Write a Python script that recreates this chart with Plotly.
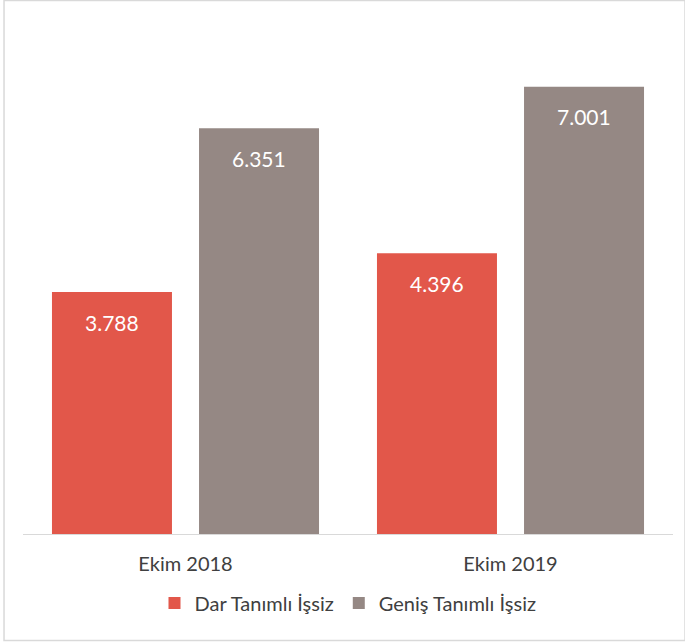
import plotly.graph_objects as go

categories = ["Ekim 2018", "Ekim 2019"]
dar_tanimli = [3788, 4396]
genis_tanimli = [6351, 7001]
series_names = ["Dar Tanımlı İşsiz", "Geniş Tanımlı İşsiz"]

FONT = "Lato"
BARGAP = 0.095
BARGROUPGAP = 0.184
PLOT_W = 650

fig = go.Figure()
fig.add_trace(go.Bar(
    x=categories, y=dar_tanimli, name=series_names[0],
    marker=dict(color="#e2574a", line=dict(width=0)),
))
fig.add_trace(go.Bar(
    x=categories, y=genis_tanimli, name=series_names[1],
    marker=dict(color="#958884", line=dict(width=0)),
))

# value labels inside the top of each bar
slot_px = PLOT_W / len(categories) * (1 - BARGAP) / 2
annotations = []
for k, vals in enumerate([dar_tanimli, genis_tanimli]):
    shift = (k - 0.5) * slot_px
    for cat, v in zip(categories, vals):
        annotations.append(dict(
            x=cat, y=v, xref="x", yref="y", text=f"{v:,}".replace(",", "."),
            showarrow=False, xshift=shift, yshift=-30, yanchor="middle",
            font=dict(color="white", size=21, family=FONT),
        ))

fig.update_layout(
    width=685, height=642,
    margin=dict(l=23, r=12, t=23, b=108),
    paper_bgcolor="white", plot_bgcolor="white",
    separators=",.",
    barmode="group", bargap=BARGAP, bargroupgap=BARGROUPGAP,
    font=dict(family=FONT, color="#404040", size=20),
    showlegend=True,
    legend=dict(orientation="h", x=0.5, xanchor="center", y=-0.135, yanchor="middle",
                font=dict(size=20, color="#404040"), traceorder="normal"),
    xaxis=dict(showline=True, linecolor="#d9d9d9", linewidth=1, ticks="",
               ticklabelstandoff=12, tickfont=dict(size=20, color="#404040")),
    yaxis=dict(range=[0, 8000], showgrid=False, showticklabels=False, zeroline=False),
    annotations=annotations,
    shapes=[dict(type="rect", xref="paper", yref="paper", x0=-0.0292, x1=1.0185,
                 y0=-0.2084, y1=1.044, line=dict(color="#d9d9d9", width=1.5))],
)

fig.write_html("out.html", config={"displayModeBar": False},
               post_script="document.body.style.margin='0';")
